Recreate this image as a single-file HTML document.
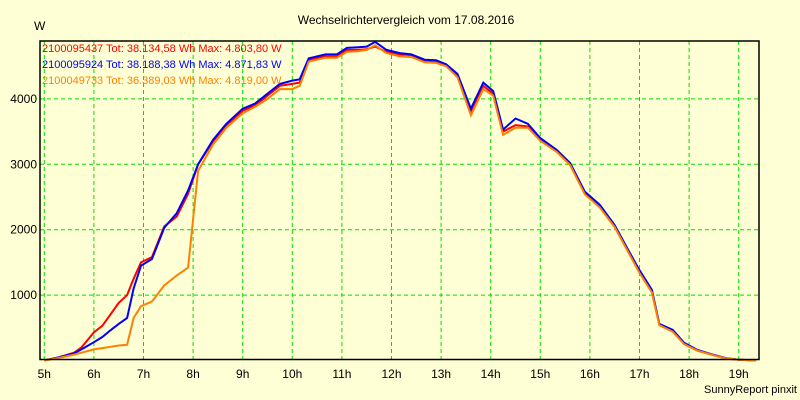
<!DOCTYPE html>
<html><head><meta charset="utf-8"><style>
body{margin:0;background:#ffffd5;}
svg{display:block;font-family:"Liberation Sans",sans-serif;}
</style></head><body>
<svg id="chart" width="800" height="400" xmlns="http://www.w3.org/2000/svg">
<rect width="800" height="400" fill="#ffffd5"/>
<text x="406" y="24" text-anchor="middle" font-size="12">Wechselrichtervergleich vom 17.08.2016</text>
<text x="34" y="30" font-size="12">W</text>
<text x="797" y="393" text-anchor="end" font-size="11">SunnyReport pinxit</text>
<g id="grid"></g><g id="series"></g>
<rect x="40" y="41" width="719" height="318.5" fill="none" stroke="#000" stroke-width="1.5"/>
<g id="legend" font-size="11">
<text x="42" y="52" fill="#ff0000">2100095437 Tot: 38.134,58 Wh Max: 4.803,80 W</text>
<text x="42" y="68" fill="#0000ff">2100095924 Tot: 38.188,38 Wh Max: 4.871,83 W</text>
<text x="42" y="84" fill="#ff8000">2100049733 Tot: 36.389,03 Wh Max: 4.819,00 W</text>
</g>
</svg>
<script>
const hours=[5,6,7,8,9,10,11,12,13,14,15,16,17,18,19];
const yTicks=[1000,2000,3000,4000];
const times=[5,5.3,5.6,5.75,6,6.17,6.33,6.5,6.67,6.8,6.95,7.17,7.42,7.67,7.9,8.1,8.4,8.67,9,9.25,9.5,9.75,10,10.15,10.33,10.67,10.9,11.1,11.33,11.5,11.67,11.9,12.17,12.4,12.67,12.9,13.1,13.33,13.6,13.85,14.05,14.25,14.5,14.75,15,15.33,15.6,15.9,16.2,16.5,16.75,17,17.25,17.4,17.67,17.9,18.17,18.5,18.75,19,19.35];
const red=[0,50,120,200,430,530,700,880,1000,1250,1500,1580,2050,2200,2550,3000,3350,3600,3820,3900,4050,4200,4230,4250,4600,4650,4650,4750,4750,4760,4800,4720,4680,4670,4580,4570,4520,4350,3800,4200,4080,3500,3600,3580,3380,3200,3000,2550,2350,2050,1700,1350,1050,550,450,250,150,80,30,10,0];
const blue=[0,50,110,170,280,360,460,560,650,1100,1450,1550,2030,2250,2600,3000,3370,3620,3850,3930,4080,4230,4280,4300,4620,4680,4680,4780,4790,4800,4871,4750,4700,4680,4600,4590,4530,4380,3850,4250,4120,3530,3700,3620,3400,3220,3020,2580,2380,2070,1720,1380,1080,560,470,270,160,85,35,12,0];
const orange=[0,40,90,120,170,190,210,230,240,650,830,900,1150,1300,1420,2900,3300,3560,3780,3880,4000,4150,4150,4200,4570,4630,4630,4720,4730,4750,4819,4700,4650,4640,4560,4550,4500,4330,3750,4150,4050,3450,3560,3560,3360,3190,2990,2540,2340,2040,1690,1340,1040,540,440,250,150,80,30,10,0];
const X=h=>44.3+(h-5)*49.6;
const Y=v=>360.5-v*0.0654;
const NS="http://www.w3.org/2000/svg";
const grid=document.getElementById('grid');
hours.forEach(h=>{
 const l=document.createElementNS(NS,'line');
 
 
 l.setAttribute('x1',X(h));l.setAttribute('x2',X(h));l.setAttribute('y1',41);l.setAttribute('y2',359);
 l.setAttribute('stroke','#00e000');l.setAttribute('stroke-dasharray','4,3');
 grid.appendChild(l);
 const t=document.createElementNS(NS,'text');
 
 
 t.setAttribute('x',X(h));t.setAttribute('y',378);t.setAttribute('text-anchor','middle');t.setAttribute('font-size','12');
 t.textContent=h+'h';grid.appendChild(t);
});
yTicks.forEach(v=>{
 const l=document.createElementNS(NS,'line');
 
 
 l.setAttribute('x1',40);l.setAttribute('x2',759);l.setAttribute('y1',Y(v));l.setAttribute('y2',Y(v));
 l.setAttribute('stroke','#00e000');l.setAttribute('stroke-dasharray','4,3');
 grid.appendChild(l);
 const t=document.createElementNS(NS,'text');
 
 
 t.setAttribute('x',37);t.setAttribute('y',Y(v)+4);t.setAttribute('text-anchor','end');t.setAttribute('font-size','12');
 t.textContent=v;grid.appendChild(t);
});
const sg=document.getElementById('series');
[[red,'#ff0000','series-red'],[blue,'#0000ff','series-blue'],[orange,'#ff8000','series-orange']].forEach(([d,c,n])=>{
 const p=document.createElementNS(NS,'polyline');
 
 
 p.setAttribute('points',d.map((v,i)=>X(times[i]).toFixed(1)+','+Y(v).toFixed(1)).join(' '));
 p.setAttribute('fill','none');p.setAttribute('stroke',c);p.setAttribute('stroke-width','2');
 sg.appendChild(p);
});
</script>
</body></html>
